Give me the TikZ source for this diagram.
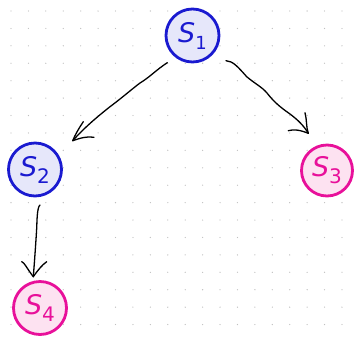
\documentclass[tikz,border=0pt]{standalone}
\usepackage{fontspec}
\setsansfont{DejaVu Sans}
\begin{document}
\begin{tikzpicture}[x=1pt,y=-1pt,
  bluestate/.style={circle,draw=stateblue,fill=blueback,line width=2.8pt,minimum size=53pt,inner sep=0pt,text=stateblue},
  pinkstate/.style={circle,draw=statepink,fill=pinkback,line width=2.8pt,minimum size=51pt,inner sep=0pt,text=statepink},
  ink/.style={line width=1.3pt,line cap=round,line join=round,black},
  lbl/.style={font=\sffamily\fontsize{27}{27}\selectfont},
  sub/.style={}]
\definecolor{stateblue}{HTML}{1A1AD0}
\definecolor{blueback}{HTML}{E6E7FA}
\definecolor{statepink}{HTML}{E8109A}
\definecolor{pinkback}{HTML}{FDE2F1}
\definecolor{dotgray}{HTML}{C0C0C0}
\useasboundingbox[fill=white] (0,0) rectangle (358,338);
\foreach \i in {0,...,20}{
  \foreach \j in {0,...,19}{
    \fill[dotgray] ({11+17.42*\i},{11+17.42*\j}) circle (0.65pt);
  }
}
\node[bluestate] (s1) at (192.5,35.5) {};
\node[bluestate] (s2) at (35,169.5) {};
\node[pinkstate] (s3) at (327,170.5) {};
\node[pinkstate,minimum size=53pt] (s4) at (40,308) {};
\node[lbl,text=stateblue] (t1) at (s1) {\textit{S}\raisebox{-7pt}{\fontsize{18}{18}\selectfont 1}};
\node[lbl,text=stateblue] (t2) at (s2) {\textit{S}\raisebox{-7pt}{\fontsize{20}{20}\selectfont 2}};
\node[lbl,text=statepink] (t3) at (s3) {\textit{S}\raisebox{-7pt}{\fontsize{20}{20}\selectfont 3}};
\node[lbl,text=statepink] (t4) at (s4) {\textit{S}\raisebox{-7pt}{\fontsize{20}{20}\selectfont 4}};
% arrow s1 -> s2
\coordinate (a1s) at (167.3,62.7);
\coordinate (a1t) at (72.7,140.7);
\draw[ink] (a1s) .. controls (156,70) and (150,77) .. (140,83)
  .. controls (132,89) and (123,97) .. (110,106.7)
  .. controls (97,117) and (84,128) .. (a1t);
\draw[ink] (83.3,121.7) .. controls (79,128) and (75,135) .. (a1t)
  .. controls (80,138) and (88,136) .. (94,137.3);
% arrow s1 -> s3
\coordinate (a2s) at (226,60.7);
\coordinate (a2t) at (308.3,133.3);
\draw[ink] (a2s) .. controls (233,61) and (238,67) .. (246.7,76.7)
  .. controls (254,83) and (262,87) .. (267,93)
  .. controls (274,102) and (280,107) .. (290,114)
  .. controls (298,120) and (304,126) .. (a2t);
\draw[ink] (305,112.7) .. controls (307,120) and (306,127) .. (a2t)
  .. controls (300,130) and (294,129) .. (288.3,130.7);
% arrow s2 -> s4
\coordinate (a3s) at (40,205);
\coordinate (a3t) at (33.3,276.7);
\draw[ink] (a3s) .. controls (37,207) and (37,222) .. (36.7,228)
  .. controls (36,240) and (35,255) .. (a3t);
\draw[ink] (21.7,261.7) .. controls (24,262) and (28,270) .. (a3t)
  .. controls (38,270) and (42,265) .. (46.7,261.7);
\end{tikzpicture}
\end{document}
